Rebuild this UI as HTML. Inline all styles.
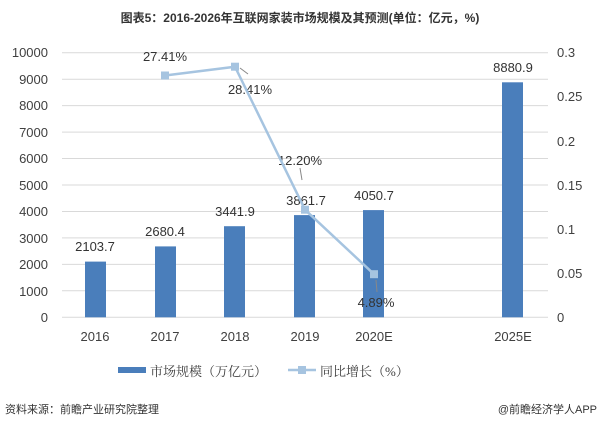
<!DOCTYPE html>
<html><head><meta charset="utf-8"><style>
body{margin:0;background:#fff;width:600px;height:428px;overflow:hidden}
</style></head><body>
<svg width="600" height="428" xmlns="http://www.w3.org/2000/svg" font-family="'Liberation Sans','Noto Sans CJK SC',sans-serif">
<text x="300" y="22" text-anchor="middle" font-size="12" font-weight="bold" fill="#333">图表5：2016-2026年互联网家装市场规模及其预测(单位：亿元，%)</text>
<g stroke="#d9d9d9" stroke-width="1">
<line x1="62" x2="548" y1="317.3" y2="317.3"/><line x1="62" x2="548" y1="290.8" y2="290.8"/><line x1="62" x2="548" y1="264.4" y2="264.4"/><line x1="62" x2="548" y1="237.9" y2="237.9"/><line x1="62" x2="548" y1="211.5" y2="211.5"/><line x1="62" x2="548" y1="185" y2="185"/><line x1="62" x2="548" y1="158.5" y2="158.5"/><line x1="62" x2="548" y1="132.1" y2="132.1"/><line x1="62" x2="548" y1="105.6" y2="105.6"/><line x1="62" x2="548" y1="79.2" y2="79.2"/><line x1="62" x2="548" y1="52.7" y2="52.7"/>
</g>
<g font-size="13" fill="#404040" text-anchor="end">
<text x="48" y="322">0</text><text x="48" y="296">1000</text><text x="48" y="269">2000</text><text x="48" y="243">3000</text><text x="48" y="216">4000</text><text x="48" y="190">5000</text><text x="48" y="163">6000</text><text x="48" y="137">7000</text><text x="48" y="110">8000</text><text x="48" y="84">9000</text><text x="48" y="57">10000</text>
</g>
<g font-size="13" fill="#404040">
<text x="557" y="322">0</text><text x="557" y="278">0.05</text><text x="557" y="234">0.1</text><text x="557" y="190">0.15</text><text x="557" y="146">0.2</text><text x="557" y="101">0.25</text><text x="557" y="57">0.3</text>
</g>
<g fill="#4a7ebb">
<rect x="85" y="261.6" width="21" height="55.7"/>
<rect x="155" y="246.4" width="21" height="70.9"/>
<rect x="224" y="226.2" width="21" height="91.1"/>
<rect x="294" y="215.1" width="21" height="102.2"/>
<rect x="363" y="210.1" width="21" height="107.2"/>
<rect x="502" y="82.3" width="21" height="235"/>
</g>
<g font-size="13" fill="#333" text-anchor="middle">
<text x="95" y="251">2103.7</text><text x="165" y="236">2680.4</text><text x="235" y="216">3441.9</text><text x="306" y="205">3861.7</text><text x="374" y="200">4050.7</text><text x="513" y="72">8880.9</text>
<text x="165" y="61">27.41%</text><text x="250" y="94">28.41%</text><text x="300" y="165">12.20%</text><text x="376" y="307">4.89%</text>
</g>
<g stroke="#888" stroke-width="1"><line x1="240" y1="68" x2="248" y2="74"/><line x1="300" y1="168" x2="302" y2="180"/><line x1="376" y1="280" x2="377" y2="292"/></g>
<polyline points="165,75.5 235,66.7 305,209.7 374,274.2" fill="none" stroke="#a6c4e0" stroke-width="2.5"/>
<g fill="#a6c4e0"><rect x="161" y="71.5" width="8" height="8"/><rect x="231" y="62.7" width="8" height="8"/><rect x="301" y="205.7" width="8" height="8"/><rect x="370" y="270.2" width="8" height="8"/></g>
<g font-size="13" fill="#404040" text-anchor="middle">
<text x="95" y="341">2016</text><text x="165" y="341">2017</text><text x="235" y="341">2018</text><text x="305" y="341">2019</text><text x="374" y="341">2020E</text><text x="513" y="341">2025E</text>
</g>
<rect x="118" y="367" width="28" height="6" fill="#4a7ebb"/>
<text x="150" y="376" font-size="13" fill="#404040" font-family="'Liberation Serif','Noto Serif CJK SC',serif">市场规模（万亿元）</text>
<line x1="288" x2="316" y1="370" y2="370" stroke="#a6c4e0" stroke-width="2.5"/>
<rect x="298" y="366" width="8" height="8" fill="#a6c4e0"/>
<text x="320" y="376" font-size="13" fill="#404040" font-family="'Liberation Serif','Noto Serif CJK SC',serif">同比增长（%）</text>
<text x="5" y="413" font-size="11" fill="#333">资料来源：前瞻产业研究院整理</text>
<text x="597" y="413" font-size="11" fill="#333" text-anchor="end">@前瞻经济学人APP</text>
</svg>
</body></html>
